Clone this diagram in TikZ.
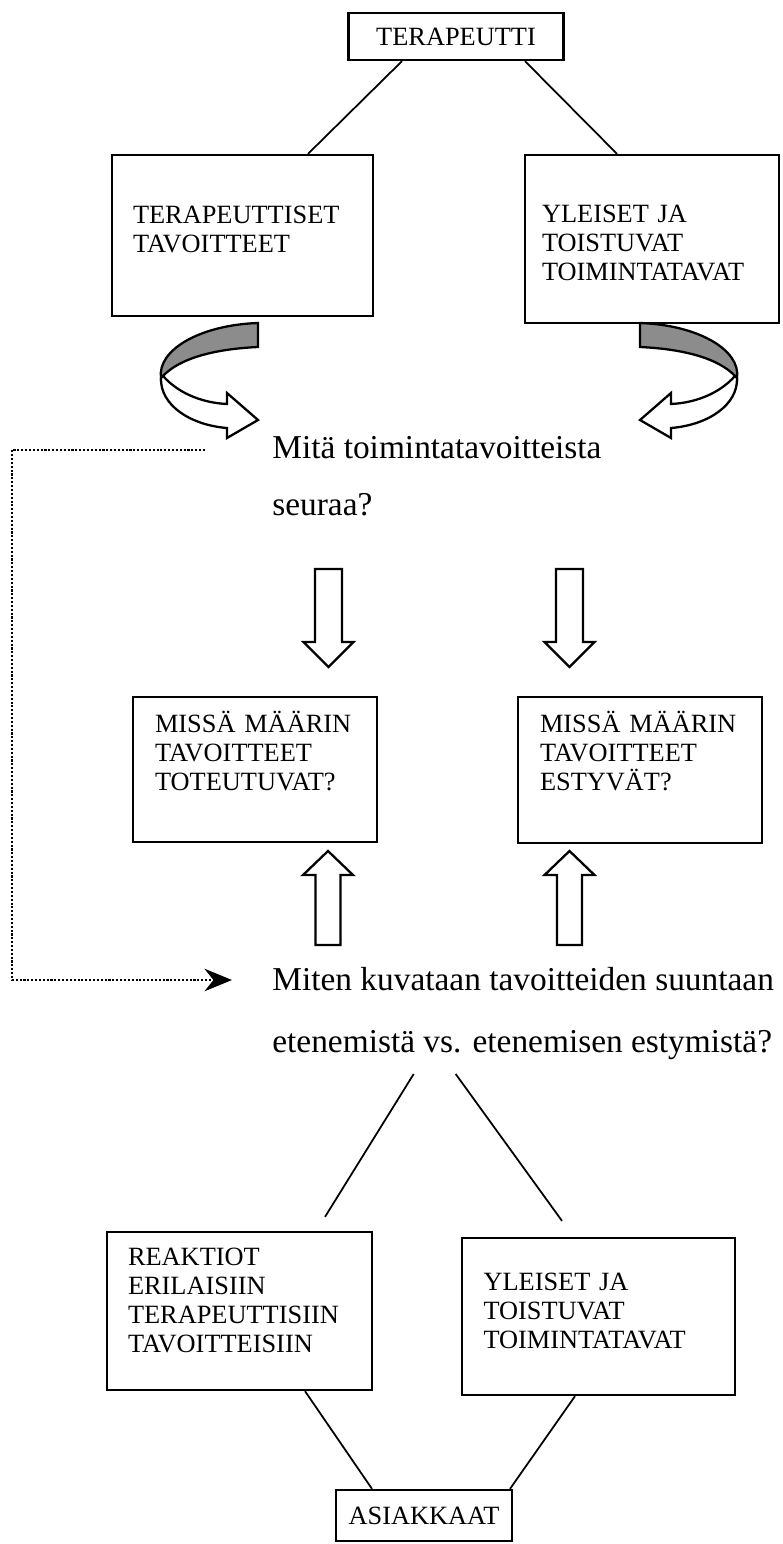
\documentclass[tikz,border=0pt]{standalone}
\usepackage{fontspec}
\setmainfont{Liberation Serif}
\usetikzlibrary{arrows.meta,calc}

% curved arrow under a top box (left version, pixel coordinates)
\newcommand{\turnarrow}{%
	\draw[dark] (258,323) -- (258,347) .. controls (215,349) and (180,358) .. (163,376) -- (161,378) .. controls (157,350) and (200,325) .. cycle;
	\draw[blk] (163,376) .. controls (180,395) and (205,403) .. (227,404) -- (227,393) -- (258,420) -- (227,438) -- (227,428) .. controls (190,425) and (160,405) .. (161,378) -- cycle;}

\begin{document}
\begin{tikzpicture}[x=0.02cm,y=-0.02cm,
	box/.style={draw,line width=1.3pt,align=left,inner sep=0pt,font=\fontsize{15}{16.5}\selectfont},
	lift/.style={text height=12pt,text depth=#1},
	txt/.style={anchor=base west,inner sep=0pt,font=\fontsize{19}{22}\selectfont},
	blk/.style={draw,line width=1.3pt,fill=white,line join=miter},
	dark/.style={draw,line width=1.3pt,fill=black!45},
	downarr/.pic={\draw[blk] (-13.5,0) -- (13.5,0) -- (13.5,73) -- (25,73) -- (0,98) -- (-25,73) -- (-13.5,73) -- cycle;},
	uparr/.pic={\draw[blk] (0,0) -- (25,24) -- (12.5,24) -- (12.5,94) -- (-12.5,94) -- (-12.5,24) -- (-25,24) -- cycle;}]
\useasboundingbox (0,0) rectangle (782,1544);

% boxes
\node[box,minimum width=4.3cm,minimum height=0.94cm] (terap) at (456,36.5) {TERAPEUTTI};
\node[box,lift=26.2pt,minimum width=5.22cm,minimum height=3.22cm,text width=4.38cm] (goal) at (242.5,235.5) {TERAPEUTTISET\\TAVOITTEET};
\node[box,lift=31.3pt,minimum width=5.08cm,minimum height=3.36cm,text width=4.4cm] (ways) at (652,239) {YLEISET JA\\TOISTUVAT\\TOIMINTATAVAT};
\node[box,lift=54.6pt,minimum width=4.88cm,minimum height=2.9cm,text width=4.0cm] (real) at (255,769.5) {MISSÄ MÄÄRIN\\TAVOITTEET\\TOTEUTUVAT?};
\node[box,lift=54.6pt,minimum width=4.88cm,minimum height=2.92cm,text width=4.0cm] (hind) at (640,770) {MISSÄ MÄÄRIN\\TAVOITTEET\\ESTYVÄT?};
\node[box,lift=64.2pt,minimum width=5.3cm,minimum height=3.16cm,text width=4.46cm] (reac) at (239.5,1311) {REAKTIOT\\ERILAISIIN\\TERAPEUTTISIIN\\TAVOITTEISIIN};
\node[box,lift=41.5pt,minimum width=5.46cm,minimum height=3.14cm,text width=4.6cm] (ways2) at (598.5,1316.5) {YLEISET JA\\TOISTUVAT\\TOIMINTATAVAT};
\node[box,minimum width=3.52cm,minimum height=1.02cm] (asia) at (424,1515.5) {ASIAKKAAT};

% questions
\node[txt] (what) at (272,458) {Mitä toimintatavoitteista};
\node[txt] (foll) at (272,515) {seuraa?};
\node[txt] (how) at (272,990) {Miten kuvataan tavoitteiden suuntaan};
\node[txt] (prog) at (272,1052) {etenemistä vs. etenemisen estymistä?};

% connecting lines
\draw[line width=1pt] ($(terap.south)+(-54,0)$) -- ($(goal.north)+(65.5,0)$);
\draw[line width=1pt] ($(terap.south)+(69,0)$) -- ($(ways.north)+(-35,0)$);
\draw[line width=1pt] ($(prog.base)+(-108.5,22)$) -- ($(reac.north)+(85.5,-14)$);
\draw[line width=1pt] ($(prog.base)+(-66.5,22)$) -- ($(ways2.north)+(-36.5,-16)$);
\draw[line width=1pt] ($(reac.south)+(65.5,0)$) -- ($(asia.north)+(-52,0)$);
\draw[line width=1pt] ($(ways2.south)+(-23.5,0)$) -- ($(asia.north)+(86,0)$);

% turning arrows
\turnarrow
\begin{scope}[shift={(898,0)},xscale=-1]
	\turnarrow
\end{scope}

% block arrows
\pic at (328.5,569) {downarr};
\pic at (569.5,569) {downarr};
\pic at (328,851) {uparr};
\pic at (569.5,851) {uparr};

% dotted return line
\coordinate (dstart) at (205,450);
\coordinate (dend) at (232,980);
\draw[densely dotted,line width=1.2pt,-{Stealth[length=0.55cm,width=0.45cm]}] (dstart) -- (12,450) |- (dend);
\end{tikzpicture}
\end{document}
